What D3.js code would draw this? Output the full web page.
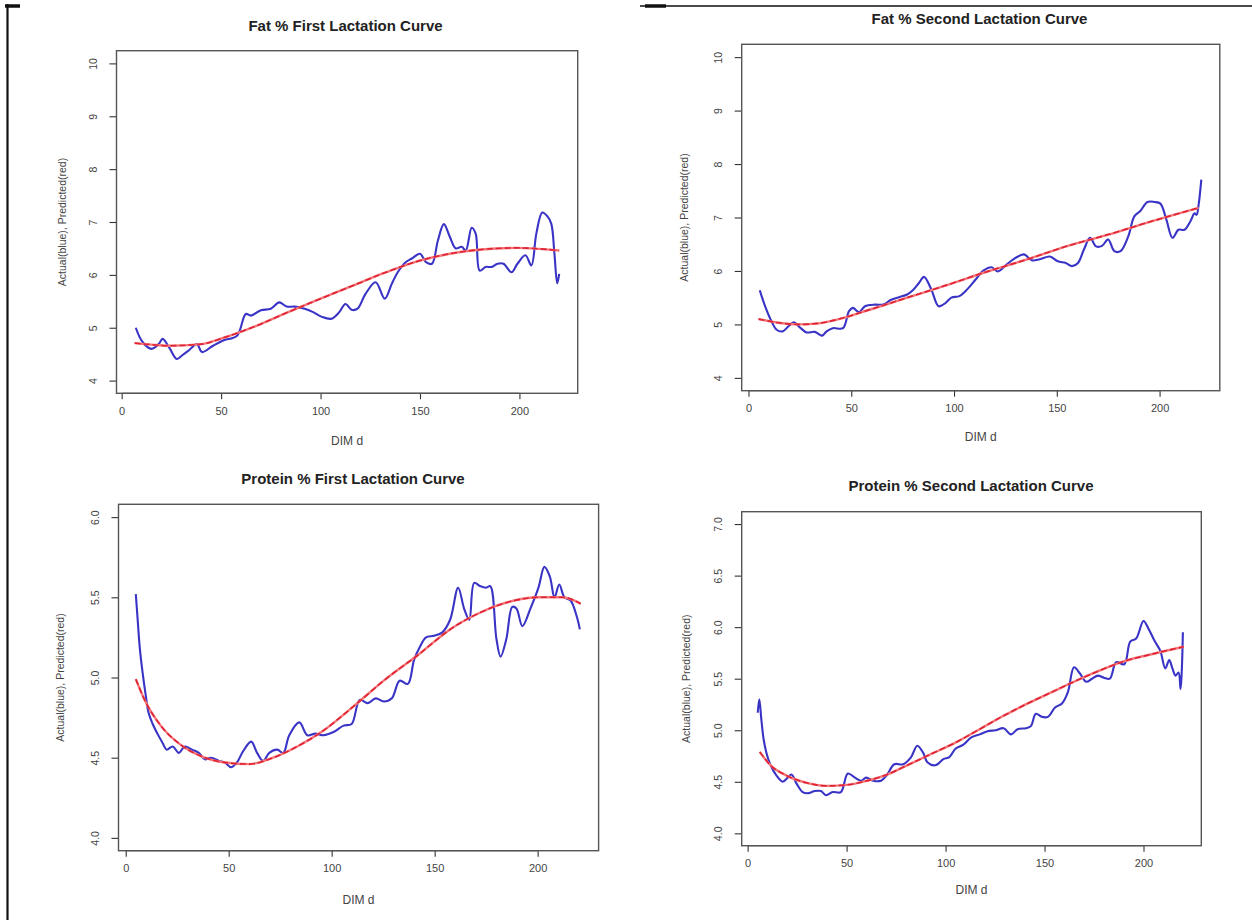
<!DOCTYPE html>
<html><head><meta charset="utf-8">
<script src="https://cdn.jsdelivr.net/npm/d3@7"></script>
<style>
body{margin:0;background:#fff}
svg{display:block}
text{font-family:"Liberation Sans",Arial,Helvetica,sans-serif}
</style>
</head><body>
<svg id="chart" width="1252" height="920"></svg>
<script>
// ---------- DATA ----------
const panelTitles = ["Fat % First Lactation Curve","Fat % Second Lactation Curve","Protein % First Lactation Curve","Protein % Second Lactation Curve"];
const yAxisTitle = "Actual(blue), Predicted(red)";
const xAxisTitle = "DIM d";
const xTickValues = [0,50,100,150,200];
const yTicksFat = [4,5,6,7,8,9,10];
const yTicksProtein1 = [4.0,4.5,5.0,5.5,6.0];
const yTicksProtein2 = [4.0,4.5,5.0,5.5,6.0,6.5,7.0];

const fat1Actual = [[7.1,5.0],[10.5,4.73],[15,4.6],[18.6,4.69],[20.6,4.79],[24,4.62],[27.7,4.41],[30.5,4.48],[33.7,4.57],[37.8,4.69],
 [40.4,4.54],[45.9,4.66],[51,4.76],[58,4.85],[62.4,5.26],[65,5.23],[70,5.33],[75,5.36],[79.2,5.48],[83,5.40],
 [87,5.40],[92,5.36],[96,5.30],[100.4,5.21],[105.5,5.17],[109.5,5.30],[112.5,5.45],[115.6,5.34],[118.6,5.36],[122.6,5.64],
 [127.7,5.86],[132.3,5.55],[135.8,5.83],[138.8,6.05],[142.8,6.24],[145.9,6.31],[150,6.40],[153,6.24],[156,6.21],[159,6.65],
 [162,6.96],[165,6.72],[168,6.50],[171,6.53],[173,6.46],[176,6.89],[178,6.78],[180,6.08],[183,6.15],[186,6.15],
 [189,6.21],[192,6.21],[196,6.05],[199,6.21],[203,6.37],[206,6.18],[208.5,6.78],[211.5,7.18],[214,7.11],[216,6.97],
 [217.6,6.40],[219,5.84],[220,6.02]];
const fat1Predicted = [[6.5,4.71],[15,4.68],[23.6,4.66],[40,4.69],[52,4.82],[68,5.04],[84,5.30],[100,5.55],[116.5,5.80],
 [133,6.05],[149,6.26],[165,6.40],[181,6.48],[199,6.51],[220,6.46]];

const fat2Actual = [[5.5,5.64],[7.8,5.37],[10.8,5.09],[13.7,4.90],[16.6,4.87],[19.6,4.97],[22,5.04],[25.4,4.93],[28.3,4.85],[32.3,4.86],
 [35.8,4.79],[38,4.87],[41,4.93],[46,4.93],[48.9,5.25],[50.8,5.31],[53.8,5.23],[56.7,5.34],[61.6,5.37],[65.5,5.37],
 [69.4,5.46],[73.3,5.51],[77.2,5.56],[80.2,5.65],[83,5.78],[85.4,5.89],[89,5.65],[92.5,5.34],[95.8,5.40],[98.7,5.50],
 [102.6,5.53],[106.5,5.66],[110.5,5.84],[114.4,6.01],[118.3,6.07],[121.2,5.99],[125,6.10],[129,6.22],[134,6.31],[137.8,6.20],
 [141.7,6.22],[146.6,6.27],[150.5,6.18],[154.4,6.15],[157.4,6.09],[160.3,6.15],[163.2,6.40],[166.2,6.62],[169.1,6.46],[172,6.47],
 [175,6.59],[178,6.37],[181,6.37],[184.8,6.65],[187.7,7.02],[190.6,7.12],[194.1,7.29],[197.5,7.29],[200.4,7.26],[203.3,6.96],
 [206.3,6.62],[209.2,6.77],[212.1,6.77],[215,6.93],[217,7.08],[218,7.05],[219,7.24],[220.3,7.71]];
const fat2Predicted = [[4.9,5.10],[14.7,5.03],[24.4,5.00],[34.2,5.02],[44,5.10],[57.7,5.26],[77.2,5.50],[96.8,5.74],
 [116.3,5.99],[135.9,6.22],[155.4,6.47],[175,6.68],[194.5,6.91],[219,7.18]];

const protein1Actual = [[4.9,5.52],[5.7,5.38],[6.8,5.19],[8.2,5.03],[9.6,4.90],[11.1,4.78],[13.1,4.71],[15.4,4.65],[18,4.59],[19.9,4.55],
 [22.8,4.57],[25.8,4.53],[28.7,4.57],[32.2,4.55],[35.5,4.53],[38.4,4.49],[41.4,4.50],[45.3,4.48],[48.2,4.47],[51.1,4.44],
 [54,4.47],[57,4.54],[60.9,4.60],[63.8,4.53],[66.7,4.48],[69.7,4.53],[73.6,4.55],[76.5,4.53],[79.4,4.64],[84.3,4.72],
 [88.2,4.64],[92.1,4.65],[96,4.64],[100.9,4.66],[105.8,4.70],[109.7,4.71],[113.6,4.86],[117.5,4.84],[121.4,4.87],[125.3,4.85],
 [129.2,4.87],[133,4.98],[137,4.96],[140,5.11],[142.8,5.19],[145.8,5.25],[149.7,5.26],[153.6,5.28],[157.5,5.36],[161.4,5.56],
 [164.3,5.43],[166.8,5.36],[169.2,5.59],[172,5.57],[175,5.56],[177,5.57],[180,5.24],[182,5.13],[184.8,5.24],[187.7,5.44],
 [189.7,5.43],[192.6,5.32],[196.5,5.43],[200.4,5.56],[203.3,5.69],[205.9,5.63],[208.2,5.50],[210.5,5.58],[213,5.50],[216,5.48],
 [219,5.38],[220.5,5.30]];
const protein1Predicted = [[4.9,4.99],[9.2,4.86],[17,4.70],[26.7,4.58],[36.5,4.51],[48.2,4.47],[60,4.46],[71.6,4.50],[83.3,4.57],
 [95,4.66],[110.6,4.82],[126.2,4.99],[141.9,5.14],[157.5,5.30],[173,5.41],[188.7,5.48],[200.4,5.50],[212,5.50],[220.9,5.46]];

const protein2Actual = [[5.1,5.17],[5.9,5.30],[6.9,5.11],[8.1,4.91],[9.5,4.78],[11.6,4.66],[14.6,4.56],[17.7,4.50],[19.7,4.53],[22.1,4.57],
 [24.8,4.48],[27.8,4.40],[30.9,4.39],[33.9,4.41],[37,4.41],[39.6,4.37],[43,4.40],[47.1,4.40],[50.6,4.58],[54.2,4.54],
 [57.3,4.51],[59.9,4.54],[63.4,4.51],[67.4,4.51],[70.5,4.57],[74.1,4.67],[78.6,4.67],[82.6,4.74],[85.7,4.85],[88.7,4.78],
 [90.8,4.69],[94.8,4.66],[98.9,4.72],[101.9,4.74],[105,4.82],[109,4.86],[113,4.93],[117.2,4.96],[121.2,4.99],[125.3,5.00],
 [129.3,5.02],[133,4.96],[136.4,5.01],[140.5,5.02],[143.1,5.04],[145.6,5.16],[148.6,5.13],[151.7,5.13],[155.3,5.22],[158.8,5.26],
 [161.8,5.37],[164.9,5.61],[167.9,5.55],[171,5.47],[174,5.50],[177,5.53],[180,5.51],[183,5.50],[186.2,5.66],[190.3,5.64],
 [193.3,5.86],[196.3,5.89],[200,6.06],[202.4,5.99],[205.5,5.87],[208.5,5.77],[211,5.60],[213,5.68],[214.6,5.60],[216.2,5.53],
 [217.7,5.56],[218.7,5.40],[219.3,5.56],[219.9,5.95]];
const protein2Predicted = [[6.1,4.79],[11.6,4.66],[19.7,4.56],[29.8,4.49],[40,4.46],[50.2,4.47],[60.3,4.51],[70.5,4.57],[80.6,4.66],
 [92.8,4.77],[105,4.88],[117.2,5.01],[129.3,5.14],[141.5,5.26],[153.7,5.37],[165.9,5.48],[178,5.58],[190.3,5.67],[202.4,5.73],[220.3,5.81]];

// ---------- LAYOUT ----------
const panels = [
 {title:panelTitles[0], actual:fat1Actual, pred:fat1Predicted, yTicks:yTicksFat, fmt:d3.format("d"),
  box:[116.5,50.7,577.7,393.3], xDom:[-2.6,229.3], yDom:[3.76,10.24], titleX:345.5, titleY:25, xLabY:441, yLabX:62},
 {title:panelTitles[1], actual:fat2Actual, pred:fat2Predicted, yTicks:yTicksFat, fmt:d3.format("d"),
  box:[741.7,44.3,1219.8,390.7], xDom:[-3.3,229.3], yDom:[3.76,10.24], titleX:979.5, titleY:18.5, xLabY:437, yLabX:684},
 {title:panelTitles[2], actual:protein1Actual, pred:protein1Predicted, yTicks:yTicksProtein1, fmt:d3.format(".1f"),
  box:[118.5,504.3,598.6,850.7], xDom:[-3.5,229.6], yDom:[3.92,6.08], titleX:353, titleY:478.5, xLabY:899.5, yLabX:60},
 {title:panelTitles[3], actual:protein2Actual, pred:protein2Predicted, yTicks:yTicksProtein2, fmt:d3.format(".1f"),
  box:[741.7,511.7,1201.3,845.7], xDom:[-3.0,229.2], yDom:[3.88,7.12], titleX:971, titleY:485, xLabY:890, yLabX:686}
];

const svg = d3.select("#chart");
svg.append("rect").attr("width",1252).attr("height",920).attr("fill","#fff");

// page border fragments
svg.append("line").attr("x1",7.5).attr("x2",7.5).attr("y1",4).attr("y2",920).attr("stroke","#111").attr("stroke-width",2.2);
svg.append("line").attr("x1",5).attr("x2",20).attr("y1",6).attr("y2",6).attr("stroke","#111").attr("stroke-width",3.5);
svg.append("line").attr("x1",640).attr("x2",1252).attr("y1",6).attr("y2",6).attr("stroke","#111").attr("stroke-width",1.6);
svg.append("line").attr("x1",645).attr("x2",666).attr("y1",6).attr("y2",6).attr("stroke","#111").attr("stroke-width",3.5);

panels.forEach(p => {
  const [l,t,r,b] = p.box;
  const x = d3.scaleLinear().domain(p.xDom).range([l,r]);
  const y = d3.scaleLinear().domain(p.yDom).range([b,t]);
  const g = svg.append("g");

  // title
  g.append("text").attr("x",p.titleX).attr("y",p.titleY).attr("text-anchor","middle")
   .attr("dominant-baseline","central").attr("font-size","15px").attr("font-weight","bold")
   .attr("fill","#222").text(p.title);

  // x axis
  const xa = g.append("g").attr("transform",`translate(0,${b})`)
    .call(d3.axisBottom(x).tickValues(xTickValues).tickSize(6).tickSizeOuter(0).tickPadding(8));
  xa.select(".domain").remove();
  xa.selectAll("line").attr("stroke","#333").attr("stroke-width",1.1);
  xa.selectAll("text").attr("font-size","11px").attr("fill","#444").attr("font-family","Liberation Sans, Arial, sans-serif");
  g.append("line").attr("x1",x(xTickValues[0])).attr("x2",x(xTickValues[xTickValues.length-1]))
   .attr("y1",b).attr("y2",b).attr("stroke","#333").attr("stroke-width",1.1);

  // y axis
  const ya = g.append("g").attr("transform",`translate(${l},0)`)
    .call(d3.axisLeft(y).tickValues(p.yTicks).tickFormat(p.fmt).tickSize(7).tickSizeOuter(0));
  ya.select(".domain").remove();
  ya.selectAll("line").attr("stroke","#333").attr("stroke-width",1.1);
  ya.selectAll("text").attr("x",null).attr("dy",null)
    .attr("transform","translate(-24,0) rotate(-90)")
    .attr("text-anchor","middle").attr("dominant-baseline","central")
    .attr("font-size","10.5px").attr("fill","#444").attr("font-family","Liberation Sans, Arial, sans-serif");

  // box
  g.append("rect").attr("x",l).attr("y",t).attr("width",r-l).attr("height",b-t)
   .attr("fill","none").attr("stroke","#555").attr("stroke-width",1.4);

  // axis titles
  g.append("text").attr("x",(l+r)/2).attr("y",p.xLabY).attr("text-anchor","middle")
   .attr("dominant-baseline","central").attr("font-size","12px").attr("fill","#444").text(xAxisTitle);
  g.append("text").attr("transform",`translate(${p.yLabX},${(t+b)/2}) rotate(-90)`)
   .attr("text-anchor","middle").attr("dominant-baseline","central")
   .attr("font-size","10.5px").attr("fill","#444").text(yAxisTitle);

  // lines
  const predLine = d3.line().x(d=>x(d[0])).y(d=>y(d[1])).curve(d3.curveMonotoneX);
  const actLine = d3.line().x(d=>x(d[0])).y(d=>y(d[1])).curve(d3.curveCatmullRom.alpha(0.5));
  g.append("path").datum(p.actual).attr("d",actLine).attr("fill","none")
   .attr("stroke","#3a34c6").attr("stroke-width",2.1).attr("stroke-linejoin","round");
  g.append("path").datum(p.pred).attr("d",predLine).attr("fill","none")
   .attr("stroke","#f4787a").attr("stroke-width",2.4);
  g.append("path").datum(p.pred).attr("d",predLine).attr("fill","none")
   .attr("stroke","#e02234").attr("stroke-width",1.6).attr("stroke-dasharray","6,3");
});
</script>
</body></html>
